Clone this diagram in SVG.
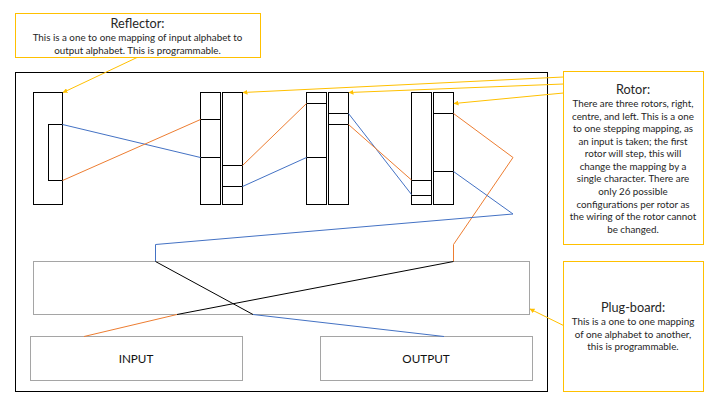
<svg xmlns="http://www.w3.org/2000/svg" width="720" height="405" viewBox="0 0 720 405">
<style>
text{font-family:"Lato","Liberation Sans",sans-serif;fill:#262626;text-anchor:middle}
.t{font-size:12.7px}
.b{font-size:9.8px}
.l{font-size:11.7px;fill:#111}
.k{fill:#fff;stroke:#000;stroke-width:1}
.d{fill:none;stroke:#000;stroke-width:1}
.g{fill:#fff;stroke:#a5a5a5;stroke-width:1}
.y{fill:#fff;stroke:#ffc000;stroke-width:1}
.c{fill:none;stroke-width:1;stroke-linejoin:round}
.o{stroke:#ed7d31}.u{stroke:#4472c4}.n{stroke:#000}
.a{fill:none;stroke:#ffc000;stroke-width:1;marker-end:url(#ah)}
</style>
<defs><marker id="ah" markerWidth="5" markerHeight="5" refX="4.5" refY="2.5" orient="auto" markerUnits="userSpaceOnUse"><path d="M0 0L5 2.5L0 5Z" fill="#ffc000"/></marker></defs>
<rect width="720" height="405" fill="#fff"/>
<rect id="frame" x="15.5" y="72.5" width="532" height="319" class="k"/>
<g id="reflector"><rect x="33.5" y="92.5" width="29" height="112" class="k"/><rect x="48.5" y="124.5" width="14" height="56" class="d"/></g>
<g id="rotor-left"><rect x="200.5" y="92.5" width="20" height="112" class="k"/><rect x="222.5" y="92.5" width="20" height="112" class="k"/><path class="d" d="M200.5 119.5H220.5M200.5 157.5H220.5M222.5 165.5H242.5M222.5 186.5H242.5"/></g>
<g id="rotor-centre"><rect x="306.5" y="92.5" width="20" height="112" class="k"/><rect x="328.5" y="92.5" width="20" height="112" class="k"/><path class="d" d="M306.5 103.5H326.5M306.5 157.5H326.5M328.5 113.5H348.5M328.5 124.5H348.5"/></g>
<g id="rotor-right"><rect x="411.5" y="92.5" width="20" height="112" class="k"/><rect x="433.5" y="92.5" width="20" height="112" class="k"/><path class="d" d="M411.5 180.5H431.5M411.5 195.5H431.5M433.5 113.5H453.5M433.5 171.5H453.5"/></g>
<g id="plugboard"><rect x="33.5" y="261.5" width="496" height="53" class="g"/></g>
<g id="input"><rect x="30.5" y="336.5" width="212" height="44" class="g"/><text x="136" y="363" class="l">INPUT</text></g>
<g id="output"><rect x="320.5" y="336.5" width="212" height="44" class="g"/><text x="426" y="363" class="l">OUTPUT</text></g>
<g id="connectors">
<path class="c u" d="M62.5 124.5L200.5 157.5"/>
<path class="c o" d="M62.5 180.5L200.5 119.5"/>
<path class="c o" d="M242.5 165.5L306.5 103.5"/>
<path class="c u" d="M242.5 186.5L306.5 157.5"/>
<path class="c u" d="M348.5 113.5L411.5 194.5"/>
<path class="c o" d="M348.5 124.5L411.5 180"/>
<path class="c o" d="M453.5 113.5L513 157.5L453.5 244.5V261.5"/>
<path class="c u" d="M453.5 171.5L513 214L155.5 244.5V261.5"/>
<path class="c n" d="M155.5 261.5L253 314.5"/>
<path class="c u" d="M253 314.5L444 336.5"/>
<path class="c n" d="M453.5 261.5L177 314.5"/>
<path class="c o" d="M177 314.5L84 336.5"/>
<path class="a" d="M137 57.5L63 92.5"/>
<path class="a" d="M563.5 77L243 92.5"/>
<path class="a" d="M563.5 84L349 92.5"/>
<path class="a" d="M563.5 93L454 103.5"/>
<path class="a" d="M563.5 325.5L530 309"/>
</g>
<g id="reflector-note"><rect x="15.5" y="13.5" width="245" height="44" class="y"/><text x="137.5" y="28" class="t">Reflector:</text><text x="137.5" y="41" class="b">This is a one to one mapping of input alphabet to</text><text x="137.5" y="53.500" class="b">output alphabet. This is programmable.</text></g>
<g id="rotor-note"><rect x="563.5" y="71.500" width="140" height="173" class="y"/><text x="633" y="94" class="t">Rotor:</text>
<text x="633" y="107" class="b">There are three rotors, right,</text><text x="633" y="120" class="b">centre, and left. This is a one</text><text x="633" y="132" class="b">to one stepping mapping, as</text><text x="633" y="145" class="b">an input is taken; the first</text><text x="633" y="157" class="b">rotor will step, this will</text><text x="633" y="170" class="b">change the mapping by a</text><text x="633" y="182" class="b">single character. There are</text><text x="633" y="195" class="b">only 26 possible</text><text x="633" y="208" class="b">configurations per rotor as</text><text x="633" y="220" class="b">the wiring of the rotor cannot</text><text x="633" y="233" class="b">be changed.</text></g>
<g id="plug-note"><rect x="563.5" y="261.500" width="140" height="130" class="y"/><text x="633" y="312" class="t">Plug-board:</text><text x="633" y="325" class="b">This is a one to one mapping</text><text x="633" y="338" class="b">of one alphabet to another,</text><text x="633" y="350" class="b">this is programmable.</text></g>
</svg>
